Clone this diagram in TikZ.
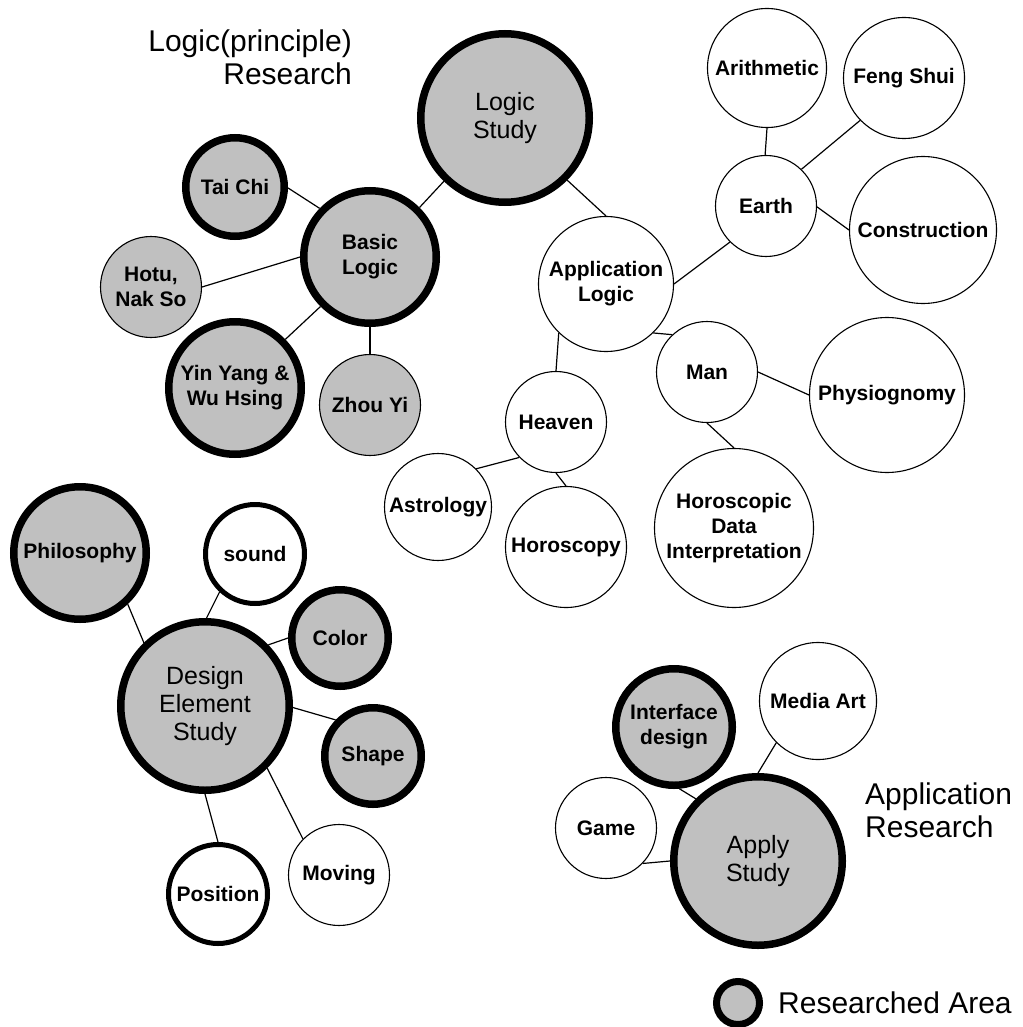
\documentclass[tikz,border=0pt]{standalone}
\usepackage{fontspec}
\setmainfont{Liberation Sans}
\definecolor{areagray}{RGB}{192,192,192}
\newcommand\smalllabel{\fontsize{21}{25}\selectfont\bfseries}
\newcommand\largelabel{\fontsize{25}{28}\selectfont}
\newcommand\headfont{\fontsize{30}{33}\selectfont}
\tikzset{
  bubble/.style={circle, inner sep=0pt, align=center, font=\smalllabel, draw=black},
  researched/.style={bubble, fill=areagray, line width=7.5pt},
  topic/.style={bubble, fill=white, line width=1.1pt},
  topicgray/.style={bubble, fill=areagray, line width=1.1pt},
  marked/.style={bubble, fill=white, line width=5pt},
  large/.style={font=\largelabel},
  link/.style={draw=black, line width=1.2pt},
  heading/.style={inner sep=0pt, font=\headfont}
}
\begin{document}
\begin{tikzpicture}[x=1pt, y=-1pt]
\useasboundingbox[fill=white] (0,0) rectangle (1022,1027);

% --- Logic (principle) research cluster
\node[researched, large, minimum size=168.5] (logic) at (505,118) {Logic\\Study};
\node[researched, minimum size=98.5] (taichi) at (235,187) {Tai Chi};
\node[researched, minimum size=132.5] (basic) at (370,257) {Basic\\Logic};
\node[topicgray, minimum size=101] (hotu) at (151,287) {Hotu,\\Nak So};
\node[researched, minimum size=132.5] (yinyang) at (235,388) {Yin Yang \&\\Wu Hsing};
\node[topicgray, minimum size=101] (zhouyi) at (370,405) {Zhou Yi};

% --- Application logic branch
\node[topic, minimum size=135] (applogic) at (606,284) {Application\\Logic};
\node[topic, minimum size=119] (arith) at (767,68) {Arithmetic};
\node[topic, minimum size=121] (feng) at (904,78) {Feng Shui};
\node[topic, minimum size=101] (earth) at (766,206) {Earth};
\node[topic, minimum size=147] (constr) at (923,230) {Construction};
\node[topic, minimum size=101] (man) at (707,372) {Man};
\node[topic, minimum size=155] (physio) at (887,395) {Physiognomy};
\node[topic, minimum size=101] (heaven) at (556,422) {Heaven};
\node[topic, minimum size=107] (astro) at (438,507) {Astrology};
\node[topic, minimum size=121] (horoscopy) at (566,547) {Horoscopy};
\node[topic, minimum size=159] (hdi) at (734,528) {Horoscopic\\Data\\Interpretation};

% --- Design element cluster
\node[researched, minimum size=132.5] (philo) at (80,553) {Philosophy};
\node[marked, minimum size=99] (sound) at (255,554) {sound};
\node[researched, minimum size=96.5] (color) at (340,638) {Color};
\node[researched, large, minimum size=168.5] (design) at (205,706) {Design\\Element\\Study};
\node[researched, minimum size=96.5] (shape) at (373,756) {Shape};
\node[topic, minimum size=101] (moving) at (339,875) {Moving};
\node[marked, minimum size=99] (position) at (218,894) {Position};

% --- Application cluster
\node[researched, minimum size=116.5] (iface) at (674,727) {Interface\\design};
\node[topic, minimum size=117] (media) at (818,701) {Media Art};
\node[topic, minimum size=101] (game) at (606,828) {Game};
\node[researched, large, minimum size=168.5] (apply) at (758,861) {Apply\\Study};

% --- Connectors
\draw[link] (basic.45) -- (logic.226);
\draw[link] (logic.-45) -- (applogic.90);
\draw[link] (taichi.-1) -- (basic.136);
\draw[link] (hotu.0) -- (basic.180);
\draw[link] (yinyang.44) -- (basic.225);
\draw[link] (basic.270) -- (zhouyi.90);
\draw[link] (applogic.0) -- (earth.225);
\draw[link] (applogic.-46) -- (man.133);
\draw[link] (applogic.226) -- (heaven.90);
\draw[link] (earth.91) -- (arith.270);
\draw[link] (earth.46) -- (feng.224);
\draw[link] (earth.-1) -- (constr.180);
\draw[link] (man.0) -- (physio.180);
\draw[link] (man.270) -- (hdi.90);
\draw[link] (heaven.224) -- (astro.45);
\draw[link] (heaven.270) -- (horoscopy.90);
\draw[link] (philo.-47) -- (design.134);
\draw[link] (sound.227) -- (design.89);
\draw[link] (color.180) -- (design.44.5);
\draw[link] (design.-1) -- (shape.136);
\draw[link] (design.-45.5) -- (moving.135);
\draw[link] (design.270) -- (position.90);
\draw[link] (iface.275) -- (apply.135);
\draw[link] (media.225) -- (apply.90);
\draw[link] (game.-44) -- (apply.180);

% --- Headings
\node[heading, align=right, anchor=north east] (logichead) at (352,30) {Logic(principle)\\Research};
\node[heading, align=left, anchor=north west] (apphead) at (865,783) {Application\\Research};

% --- Legend
\node[researched, line width=7pt, minimum size=43] (legendmark) at (738,1003) {};
\node[heading, anchor=base west] (legendtext) at (778,1013) {Researched Area};
\end{tikzpicture}
\end{document}
